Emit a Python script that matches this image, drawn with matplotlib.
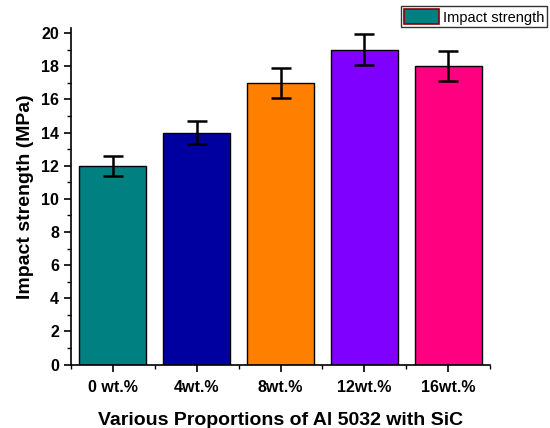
import matplotlib
matplotlib.use("Agg")
import matplotlib.pyplot as plt
from matplotlib.ticker import MultipleLocator
from matplotlib.patches import Patch

categories = ["0 wt.%", "4wt.%", "8wt.%", "12wt.%", "16wt.%"]
values = [12, 14, 17, 19, 18]
errors = [0.6, 0.7, 0.9, 0.95, 0.9]
colors = ["#008080", "#0000A0", "#FF8000", "#8000FF", "#FF0080"]

plt.rcParams['font.family'] = ['Liberation Sans', 'DejaVu Sans']

fig = plt.figure(figsize=(5.5, 4.28), dpi=100)
ax = fig.add_axes([0.129, 0.148, 0.762, 0.7865])

x = list(range(1, len(categories) + 1))
ax.bar(x, values, width=0.8, color=colors, edgecolor="black", linewidth=1.0,
       yerr=errors, capsize=7, error_kw=dict(elinewidth=1.8, capthick=1.8, ecolor="black"))

ax.set_xlim(0.5, 5.5)
ax.set_ylim(0, 20.3)
ax.yaxis.set_major_locator(MultipleLocator(2))
ax.yaxis.set_minor_locator(MultipleLocator(1))
ax.set_xticks(x)
ax.set_xticklabels(categories)
ax.set_xticks([0.5, 1.5, 2.5, 3.5, 4.5, 5.5], minor=True)

for s in ["top", "right"]:
    ax.spines[s].set_visible(False)
for s in ["left", "bottom"]:
    ax.spines[s].set_linewidth(1.2)

ax.tick_params(axis="both", which="major", direction="out", length=5, width=1.2,
               labelsize=11.5)
ax.tick_params(axis="x", which="major", pad=6)
ax.tick_params(axis="both", which="minor", direction="out", length=3, width=1.0)
for lab in ax.get_xticklabels() + ax.get_yticklabels():
    lab.set_fontweight("bold")

ax.set_ylabel("Impact strength (MPa)", fontsize=14, fontweight="bold", labelpad=5)
ax.set_xlabel("Various Proportions of Al 5032 with SiC", fontsize=14, fontweight="bold", labelpad=12)

handle = Patch(facecolor="#008080", edgecolor="#8B0000", linewidth=1.2)
leg = fig.legend([handle], ["Impact strength"],
                 loc="upper right", bbox_to_anchor=(0.995, 0.985), fontsize=10.5,
                 frameon=True, fancybox=False, edgecolor="black", borderpad=0.2,
                 handlelength=2.4, handleheight=1.15, handletextpad=0.3, borderaxespad=0)
leg.get_frame().set_linewidth(1.0)

fig.savefig("out.png", dpi=100)
